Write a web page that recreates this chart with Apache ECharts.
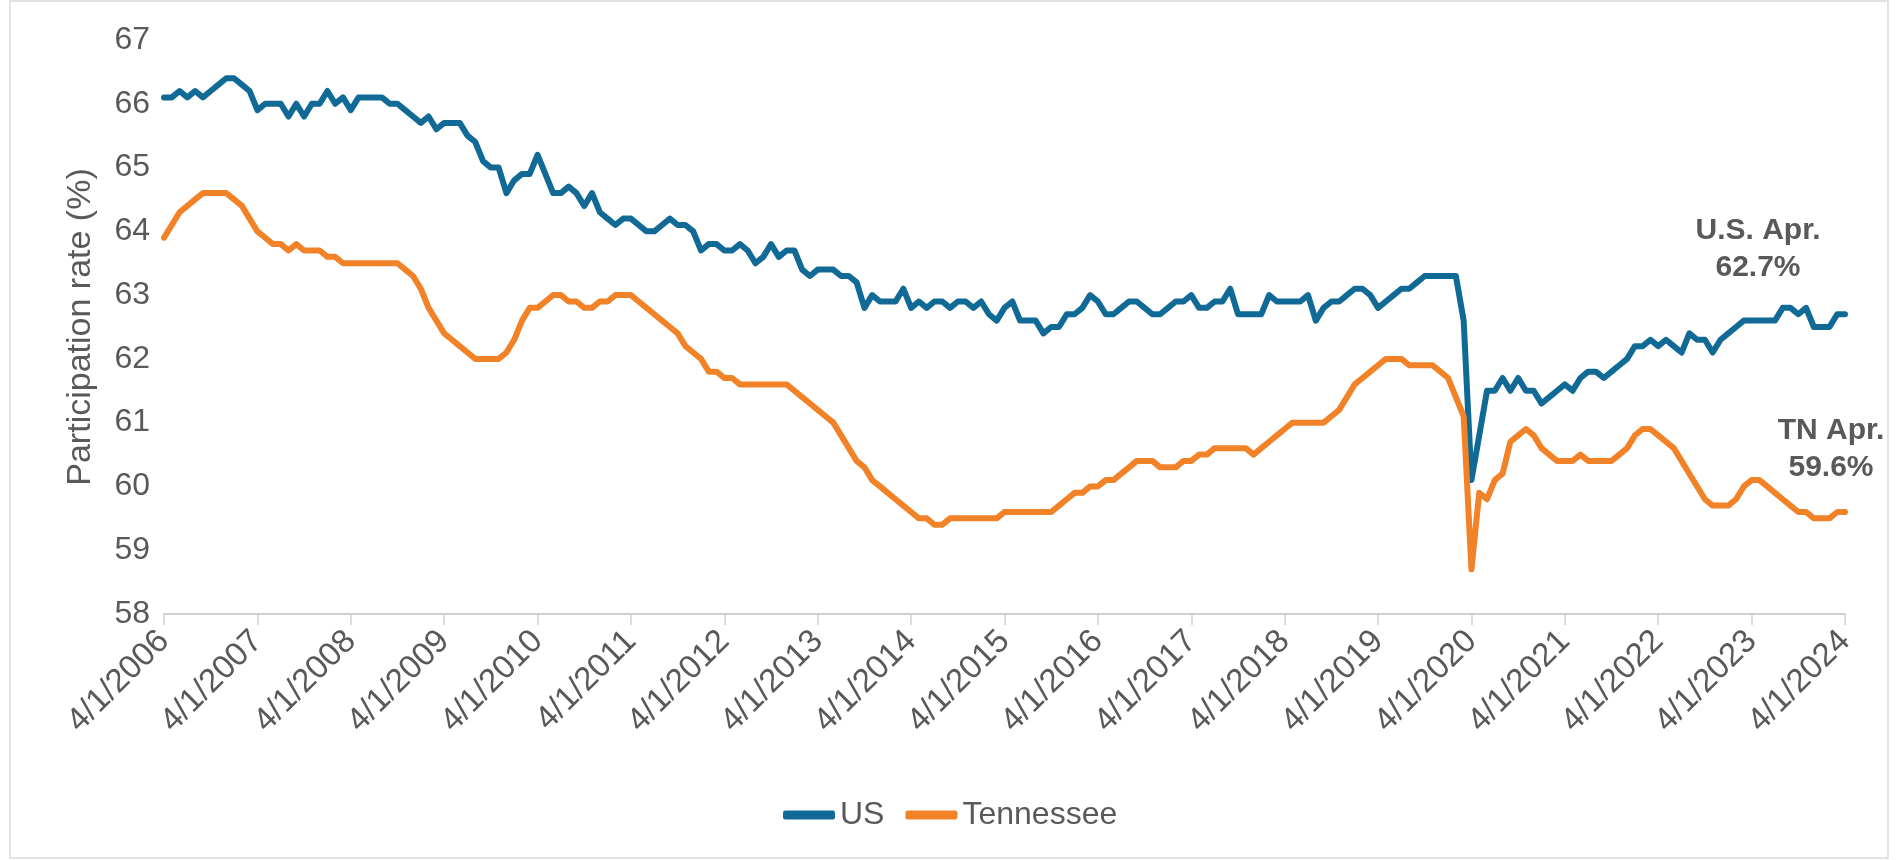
<!DOCTYPE html>
<html>
<head>
<meta charset="utf-8">
<script src="https://cdn.jsdelivr.net/npm/echarts@6/dist/echarts.min.js"></script>
<style>
  html, body { margin: 0; padding: 0; background: #ffffff; }
  #chart { width: 1898px; height: 860px; }
</style>
</head>
<body>
<div id="chart"></div>
<script>
// Monthly series, April 2006 .. April 2024 (one row per calendar year)
const usRate = [
  66.1, 66.1, 66.2, 66.1, 66.2, 66.1, 66.2, 66.3, 66.4,                   // 2006 Apr-Dec
  66.4, 66.3, 66.2, 65.9, 66.0, 66.0, 66.0, 65.8, 66.0, 65.8, 66.0, 66.0, // 2007
  66.2, 66.0, 66.1, 65.9, 66.1, 66.1, 66.1, 66.1, 66.0, 66.0, 65.9, 65.8, // 2008
  65.7, 65.8, 65.6, 65.7, 65.7, 65.7, 65.5, 65.4, 65.1, 65.0, 65.0, 64.6, // 2009
  64.8, 64.9, 64.9, 65.2, 64.9, 64.6, 64.6, 64.7, 64.6, 64.4, 64.6, 64.3, // 2010
  64.2, 64.1, 64.2, 64.2, 64.1, 64.0, 64.0, 64.1, 64.2, 64.1, 64.1, 64.0, // 2011
  63.7, 63.8, 63.8, 63.7, 63.7, 63.8, 63.7, 63.5, 63.6, 63.8, 63.6, 63.7, // 2012
  63.7, 63.4, 63.3, 63.4, 63.4, 63.4, 63.3, 63.3, 63.2, 62.8, 63.0, 62.9, // 2013
  62.9, 62.9, 63.1, 62.8, 62.9, 62.8, 62.9, 62.9, 62.8, 62.9, 62.9, 62.8, // 2014
  62.9, 62.7, 62.6, 62.8, 62.9, 62.6, 62.6, 62.6, 62.4, 62.5, 62.5, 62.7, // 2015
  62.7, 62.8, 63.0, 62.9, 62.7, 62.7, 62.8, 62.9, 62.9, 62.8, 62.7, 62.7, // 2016
  62.8, 62.9, 62.9, 63.0, 62.8, 62.8, 62.9, 62.9, 63.1, 62.7, 62.7, 62.7, // 2017
  62.7, 63.0, 62.9, 62.9, 62.9, 62.9, 63.0, 62.6, 62.8, 62.9, 62.9, 63.0, // 2018
  63.1, 63.1, 63.0, 62.8, 62.9, 63.0, 63.1, 63.1, 63.2, 63.3, 63.3, 63.3, // 2019
  63.3, 63.3, 62.6, 60.1, 60.8, 61.5, 61.5, 61.7, 61.5, 61.7, 61.5, 61.5, // 2020
  61.3, 61.4, 61.5, 61.6, 61.5, 61.7, 61.8, 61.8, 61.7, 61.8, 61.9, 62.0, // 2021
  62.2, 62.2, 62.3, 62.2, 62.3, 62.2, 62.1, 62.4, 62.3, 62.3, 62.1, 62.3, // 2022
  62.4, 62.5, 62.6, 62.6, 62.6, 62.6, 62.6, 62.8, 62.8, 62.7, 62.8, 62.5, // 2023
  62.5, 62.5, 62.7, 62.7                                                  // 2024 Jan-Apr
];

const tnRate = [
  63.9, 64.1, 64.3, 64.4, 64.5, 64.6, 64.6, 64.6, 64.6,                   // 2006 Apr-Dec
  64.5, 64.4, 64.2, 64.0, 63.9, 63.8, 63.8, 63.7, 63.8, 63.7, 63.7, 63.7, // 2007
  63.6, 63.6, 63.5, 63.5, 63.5, 63.5, 63.5, 63.5, 63.5, 63.5, 63.4, 63.3, // 2008
  63.1, 62.8, 62.6, 62.4, 62.3, 62.2, 62.1, 62.0, 62.0, 62.0, 62.0, 62.1, // 2009
  62.3, 62.6, 62.8, 62.8, 62.9, 63.0, 63.0, 62.9, 62.9, 62.8, 62.8, 62.9, // 2010
  62.9, 63.0, 63.0, 63.0, 62.9, 62.8, 62.7, 62.6, 62.5, 62.4, 62.2, 62.1, // 2011
  62.0, 61.8, 61.8, 61.7, 61.7, 61.6, 61.6, 61.6, 61.6, 61.6, 61.6, 61.6, // 2012
  61.5, 61.4, 61.3, 61.2, 61.1, 61.0, 60.8, 60.6, 60.4, 60.3, 60.1, 60.0, // 2013
  59.9, 59.8, 59.7, 59.6, 59.5, 59.5, 59.4, 59.4, 59.5, 59.5, 59.5, 59.5, // 2014
  59.5, 59.5, 59.5, 59.6, 59.6, 59.6, 59.6, 59.6, 59.6, 59.6, 59.7, 59.8, // 2015
  59.9, 59.9, 60.0, 60.0, 60.1, 60.1, 60.2, 60.3, 60.4, 60.4, 60.4, 60.3, // 2016
  60.3, 60.3, 60.4, 60.4, 60.5, 60.5, 60.6, 60.6, 60.6, 60.6, 60.6, 60.5, // 2017
  60.6, 60.7, 60.8, 60.9, 61.0, 61.0, 61.0, 61.0, 61.0, 61.1, 61.2, 61.4, // 2018
  61.6, 61.7, 61.8, 61.9, 62.0, 62.0, 62.0, 61.9, 61.9, 61.9, 61.9, 61.8, // 2019
  61.7, 61.4, 61.1, 58.7, 59.9, 59.8, 60.1, 60.2, 60.7, 60.8, 60.9, 60.8, // 2020
  60.6, 60.5, 60.4, 60.4, 60.4, 60.5, 60.4, 60.4, 60.4, 60.4, 60.5, 60.6, // 2021
  60.8, 60.9, 60.9, 60.8, 60.7, 60.6, 60.4, 60.2, 60.0, 59.8, 59.7, 59.7, // 2022
  59.7, 59.8, 60.0, 60.1, 60.1, 60.0, 59.9, 59.8, 59.7, 59.6, 59.6, 59.5, // 2023
  59.5, 59.5, 59.6, 59.6                                                  // 2024 Jan-Apr
];

const seriesNames = ['US', 'Tennessee'];
const seriesColors = ['#116A96', '#F28228'];
const yTicks = { min: 58, max: 67, interval: 1 };
const axisTitle = 'Participation rate (%)';
const annotations = [
  { text: 'U.S. Apr.\n62.7%', x: 1758, y: 212 },
  { text: 'TN Apr.\n59.6%', x: 1831, y: 412 }
];

// Category labels: month/1/year from April 2006 onward
const startYear = 2006, startMonth = 4;
const categories = usRate.map((_, i) => {
  const m0 = startMonth - 1 + i;
  const y = startYear + Math.floor(m0 / 12);
  const m = (m0 % 12) + 1;
  return m + '/1/' + y;
});

const FONT = '"Liberation Sans", Arial, sans-serif';
const TXT = '#595959';

const chart = echarts.init(document.getElementById('chart'), null, { renderer: 'canvas' });

chart.setOption({
  backgroundColor: '#ffffff',
  animation: false,
  textStyle: { fontFamily: FONT },
  grid: { left: 164, right: 53, top: 40, bottom: 246, containLabel: false },
  legend: {
    data: seriesNames.map(n => ({ name: n, icon: 'roundRect' })),
    left: 778,
    top: 794,
    itemWidth: 52,
    itemHeight: 9,
    itemGap: 21,
    textStyle: { fontSize: 32, color: TXT, fontFamily: FONT }
  },
  xAxis: {
    type: 'category',
    data: categories,
    boundaryGap: false,
    axisLine: { show: true, lineStyle: { color: '#D0D0D0', width: 2 } },
    axisTick: { show: true, interval: 11, length: 11, lineStyle: { color: '#D0D0D0', width: 1.5 } },
    axisLabel: {
      interval: 11,
      rotate: 45,
      margin: 22,
      fontSize: 33,
      color: TXT,
      fontFamily: FONT
    },
    splitLine: { show: false }
  },
  yAxis: {
    type: 'value',
    min: yTicks.min,
    max: yTicks.max,
    interval: yTicks.interval,
    name: axisTitle,
    nameLocation: 'middle',
    nameGap: 66,
    nameTextStyle: { fontSize: 34, color: TXT, fontFamily: FONT },
    axisLine: { show: false },
    axisTick: { show: false },
    splitLine: { show: false },
    axisLabel: { fontSize: 32, color: TXT, margin: 14, fontFamily: FONT }
  },
  series: [
    {
      name: seriesNames[0],
      type: 'line',
      data: usRate,
      symbol: 'none',
      color: seriesColors[0],
      lineStyle: { width: 6, color: seriesColors[0], cap: 'round', join: 'round' }
    },
    {
      name: seriesNames[1],
      type: 'line',
      data: tnRate,
      symbol: 'none',
      color: seriesColors[1],
      lineStyle: { width: 6, color: seriesColors[1], cap: 'round', join: 'round' }
    }
  ],
  graphic: [
    {
      type: 'rect',
      shape: { x: 10, y: 1, width: 1878, height: 857 },
      style: { fill: 'none', stroke: '#D9D9D9', lineWidth: 1.5 },
      silent: true,
      z: -10
    }
  ].concat(annotations.map(a => ({
    type: 'text',
    x: a.x,
    y: a.y,
    style: {
      text: a.text,
      fill: TXT,
      font: 'bold 30px ' + FONT,
      textAlign: 'center',
      textVerticalAlign: 'top',
      lineHeight: 37
    },
    z: 10
  })))
});
</script>
</body>
</html>
